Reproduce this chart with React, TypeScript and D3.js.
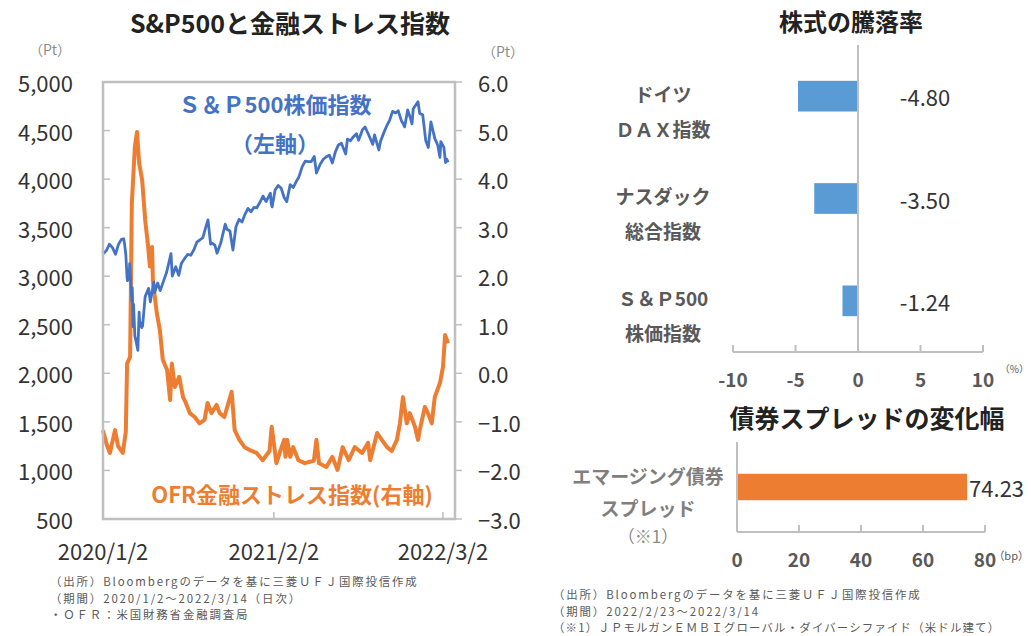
import React from "react";
import * as d3 from "d3";

// ---------- Left chart data ----------
const spxDates = [
  "2020-01-02","2020-01-03","2020-01-10","2020-01-17","2020-01-24","2020-01-31","2020-02-07","2020-02-14","2020-02-19","2020-02-21",
  "2020-02-24","2020-02-27","2020-02-28","2020-03-03","2020-03-04","2020-03-06","2020-03-09","2020-03-10","2020-03-12","2020-03-13",
  "2020-03-16","2020-03-20","2020-03-23","2020-03-26","2020-03-27","2020-04-01","2020-04-03","2020-04-09","2020-04-17","2020-04-21",
  "2020-04-29","2020-05-01","2020-05-08","2020-05-14","2020-05-22","2020-05-29","2020-06-08","2020-06-11","2020-06-19","2020-06-26",
  "2020-07-02","2020-07-10","2020-07-17","2020-07-24","2020-07-31","2020-08-07","2020-08-14","2020-08-21","2020-08-28","2020-09-02",
  "2020-09-08","2020-09-11","2020-09-18","2020-09-23","2020-10-02","2020-10-12","2020-10-16","2020-10-23","2020-10-30","2020-11-06",
  "2020-11-13","2020-11-20","2020-11-27","2020-12-04","2020-12-11","2020-12-18","2020-12-24","2020-12-31","2021-01-08","2021-01-15",
  "2021-01-25","2021-01-27","2021-01-29","2021-02-05","2021-02-12","2021-02-19","2021-02-26","2021-03-04","2021-03-12","2021-03-19",
  "2021-03-26","2021-04-01","2021-04-09","2021-04-16","2021-04-23","2021-04-30","2021-05-07","2021-05-12","2021-05-21","2021-05-28",
  "2021-06-04","2021-06-11","2021-06-18","2021-06-25","2021-07-02","2021-07-09","2021-07-19","2021-07-23","2021-07-30","2021-08-06",
  "2021-08-13","2021-08-18","2021-08-27","2021-09-02","2021-09-10","2021-09-20","2021-09-24","2021-10-04","2021-10-08","2021-10-15",
  "2021-10-22","2021-10-29","2021-11-05","2021-11-12","2021-11-18","2021-11-26","2021-11-30","2021-12-03","2021-12-10","2021-12-17",
  "2021-12-20","2021-12-23","2022-01-03","2022-01-07","2022-01-14","2022-01-21","2022-01-27","2022-02-02","2022-02-11","2022-02-18",
  "2022-02-23","2022-02-25","2022-03-04","2022-03-08","2022-03-11","2022-03-14",
];
const spxValues = [
  3258,3235,3265,3330,3295,3226,3328,3380,3386,3338,
  3226,2979,2954,3003,3130,2972,2746,2882,2481,2711,
  2386,2305,2237,2630,2541,2470,2489,2790,2875,2737,
  2940,2831,2930,2852,2955,3044,3232,3002,3098,3009,
  3130,3185,3225,3216,3271,3351,3373,3397,3508,3580,
  3331,3341,3319,3237,3348,3535,3484,3465,3270,3510,
  3585,3558,3638,3699,3663,3709,3703,3756,3825,3768,
  3855,3750,3714,3887,3934,3907,3811,3768,3943,3913,
  3975,4020,4129,4185,4180,4181,4233,4063,4156,4204,
  4230,4247,4166,4281,4352,4370,4259,4412,4395,4437,
  4468,4400,4509,4537,4459,4358,4455,4300,4391,4471,
  4545,4605,4697,4682,4704,4595,4567,4538,4712,4620,
  4568,4725,4796,4677,4662,4398,4326,4589,4419,4349,
  4225,4385,4329,4170,4204,4173,
];

const ofrDates = [
  "2020-01-02","2020-01-10","2020-01-18","2020-01-30","2020-02-06","2020-02-17","2020-02-24","2020-02-27","2020-03-05","2020-03-09",
  "2020-03-16","2020-03-21","2020-03-26","2020-04-02","2020-04-09","2020-04-16","2020-04-20","2020-04-25","2020-04-27","2020-05-06",
  "2020-05-13","2020-05-20","2020-05-30","2020-06-06","2020-06-10","2020-06-17","2020-06-27","2020-07-06","2020-07-12","2020-07-22",
  "2020-08-02","2020-08-13","2020-08-25","2020-09-01","2020-09-10","2020-09-22","2020-09-29","2020-10-10","2020-10-27","2020-11-03",
  "2020-11-14","2020-11-26","2020-12-08","2020-12-24","2021-01-07","2021-01-23","2021-01-28","2021-02-08","2021-02-17","2021-02-26",
  "2021-03-01","2021-03-05","2021-03-12","2021-03-19","2021-03-31","2021-04-15","2021-05-06","2021-05-12","2021-05-18","2021-06-04",
  "2021-06-18","2021-06-30","2021-07-12","2021-07-26","2021-08-09","2021-08-26","2021-09-09","2021-09-14","2021-09-20","2021-09-30",
  "2021-10-11","2021-10-23","2021-11-03","2021-11-15","2021-11-22","2021-11-29","2021-12-08","2021-12-15","2021-12-27","2022-01-03",
  "2022-01-07","2022-01-19","2022-01-26","2022-02-04","2022-02-11","2022-02-23","2022-03-02","2022-03-07","2022-03-11","2022-03-14",
];
const ofrValues = [
  -1.17,-1.45,-1.64,-1.17,-1.5,-1.64,-1.2,0.2,0.34,3.5,
  4.66,4.97,4.33,3.98,3.16,2.6,2.2,2.6,1.9,1.24,
  0.9,0.28,0.07,-0.55,0.2,-0.28,-0.07,-0.49,-0.6,-0.82,
  -0.9,-1.03,-0.96,-0.61,-0.82,-0.65,-0.82,-0.9,-0.38,-1.17,
  -1.37,-1.52,-1.58,-1.64,-1.79,-1.6,-1.1,-1.85,-1.6,-1.37,
  -1.72,-1.37,-1.72,-1.52,-1.79,-1.85,-1.8,-1.37,-1.85,-1.93,
  -1.72,-1.99,-1.52,-1.79,-1.52,-1.64,-1.43,-1.79,-1.58,-1.23,
  -1.37,-1.52,-1.6,-1.37,-1.03,-0.49,-1.03,-0.82,-1.1,-1.37,
  -1.17,-0.69,-0.82,-1.03,-0.49,-0.2,0.13,0.79,0.69,0.62,
];

const leftTicks = [500, 1000, 1500, 2000, 2500, 3000, 3500, 4000, 4500, 5000];
const rightTicks = [-3, -2, -1, 0, 1, 2, 3, 4, 5, 6];
const dateTicks = ["2020-01-02", "2021-02-02", "2022-03-02"];
const dateTickLabels = ["2020/1/2", "2021/2/2", "2022/3/2"];

// ---------- Right top chart data ----------
const stockCats = [["ドイツ", "ＤＡＸ指数"], ["ナスダック", "総合指数"], ["Ｓ＆Ｐ500", "株価指数"]];
const stockValues = [-4.8, -3.5, -1.24];
const stockTicks = [-10, -5, 0, 5, 10];

// ---------- Right bottom chart data ----------
const bondCats = [["エマージング債券", "スプレッド", "（※1）"]];
const bondValues = [74.23];
const bondTicks = [0, 20, 40, 60, 80];

const FONT = "'Noto Sans CJK JP', 'Noto Sans', sans-serif";
const BLUE = "#4472C4";
const ORANGE = "#ED7D31";
const BARBLUE = "#5B9BD5";
const AXIS = "#BFBFBF";
const TXT = "#333333";
const GRAYTXT = "#595959";

export default function App() {
  const parse = d3.utcParse("%Y-%m-%d");
  const x = d3.scaleUtc().domain([parse("2020-01-02")!, parse("2022-03-30")!]).range([103, 455]);
  const yL = d3.scaleLinear().domain([500, 5000]).range([519, 82]);
  const yR = d3.scaleLinear().domain([-3, 6]).range([519, 82]);

  const spx = spxDates.map((d, i) => ({ d: parse(d)!, v: spxValues[i] }));
  const ofr = ofrDates.map((d, i) => ({ d: parse(d)!, v: ofrValues[i] }));
  const spxLine = d3.line<{ d: Date; v: number }>().x((p) => x(p.d)).y((p) => yL(p.v));
  const ofrLine = d3.line<{ d: Date; v: number }>().x((p) => x(p.d)).y((p) => yR(p.v));

  const fmtL = d3.format(",");
  const fmtR = d3.format(".1f");

  const sx = d3.scaleLinear().domain([-10, 10]).range([733, 983]);
  const sy = d3.scaleBand<number>().domain(stockValues.map((_, i) => i)).range([45, 352]).paddingInner(0.7).paddingOuter(0.35);

  const bx = d3.scaleLinear().domain([0, 80]).range([737, 985]);
  const by = d3.scaleBand<number>().domain(bondValues.map((_, i) => i)).range([442, 532]).paddingInner(0.7).paddingOuter(0.36);

  return (
    <svg width={1031} height={636} style={{ position: "absolute", left: 0, top: 0, background: "#fff" }} fontFamily={FONT}>
      <rect x={0} y={0} width={1031} height={636} fill="#fff" />
      {/* ===== Left chart ===== */}
      <text x={290} y={22} textAnchor="middle" dominantBaseline="central" fontSize={25} fontWeight="bold" fill="#222">
        S&amp;P500と金融ストレス指数
      </text>
      <text x={50} y={49} textAnchor="middle" dominantBaseline="central" fontSize={14} fill="#8c8c8c">（Pt）</text>
      <text x={503} y={51} textAnchor="middle" dominantBaseline="central" fontSize={14} fill="#8c8c8c">（Pt）</text>

      <path d={ofrLine(ofr) || ""} fill="none" stroke={ORANGE} strokeWidth={4} strokeLinejoin="round" />
      <path d={spxLine(spx) || ""} fill="none" stroke={BLUE} strokeWidth={2.8} strokeLinejoin="round" />

      <rect x={103} y={82} width={352} height={437} fill="none" stroke={AXIS} strokeWidth={2.5} />
      {leftTicks.map((t) => (
        <g key={"l" + t}>
          {t !== 500 && t !== 5000 && <line x1={103} x2={110} y1={yL(t)} y2={yL(t)} stroke={AXIS} strokeWidth={1.5} />}
          <text x={73} y={yL(t)} textAnchor="end" dominantBaseline="central" fontSize={22} fill={TXT}>{fmtL(t)}</text>
        </g>
      ))}
      {rightTicks.map((t) => (
        <g key={"r" + t}>
          <line x1={455} x2={462} y1={yR(t)} y2={yR(t)} stroke={AXIS} strokeWidth={1.5} />
          <text x={478} y={yR(t)} textAnchor="start" dominantBaseline="central" fontSize={22} fill={TXT}>{fmtR(t)}</text>
        </g>
      ))}
      {dateTicks.map((t, i) => (
        <g key={"d" + t}>
          {i > 0 && <line x1={x(parse(t)!)} x2={x(parse(t)!)} y1={519} y2={512} stroke={AXIS} strokeWidth={1.5} />}
          <text x={x(parse(t)!)} y={550} textAnchor="middle" dominantBaseline="central" fontSize={22} fill={TXT}>{dateTickLabels[i]}</text>
        </g>
      ))}

      <text x={275} y={103} textAnchor="middle" dominantBaseline="central" fontSize={22} fontWeight="bold" fill={BLUE}>Ｓ＆Ｐ500株価指数</text>
      <text x={275} y={142} textAnchor="middle" dominantBaseline="central" fontSize={22} fontWeight="bold" fill={BLUE}>（左軸）</text>
      <text x={292} y={493} textAnchor="middle" dominantBaseline="central" fontSize={22} fontWeight="bold" fill={ORANGE}>OFR金融ストレス指数(右軸)</text>

      <g fontSize={11.4} fill={GRAYTXT} letterSpacing={1.9}>
        <text x={50} y={581} dominantBaseline="central">（出所）Bloombergのデータを基に三菱ＵＦＪ国際投信作成</text>
        <text x={50} y={597.5} dominantBaseline="central">（期間）2020/1/2～2022/3/14（日次）</text>
        <text x={50} y={614} dominantBaseline="central">・ＯＦＲ：米国財務省金融調査局</text>
      </g>

      {/* ===== Right top chart ===== */}
      <text x={851} y={20} textAnchor="middle" dominantBaseline="central" fontSize={24} fontWeight="bold" fill="#222">株式の騰落率</text>
      {stockValues.map((v, i) => (
        <g key={"s" + i}>
          <rect x={sx(Math.min(0, v))} y={sy(i)!} width={Math.abs(sx(v) - sx(0))} height={sy.bandwidth()} fill={BARBLUE} />
          <text x={925} y={sy(i)! + sy.bandwidth() / 2} textAnchor="middle" dominantBaseline="central" fontSize={22} fill={TXT}>{v.toFixed(2)}</text>
          <text x={663} y={sy(i)! + sy.bandwidth() / 2 - 3} textAnchor="middle" dominantBaseline="central" fontSize={19} fontWeight="bold" fill={GRAYTXT}>{stockCats[i][0]}</text>
          <text x={663} y={sy(i)! + sy.bandwidth() / 2 + 32} textAnchor="middle" dominantBaseline="central" fontSize={19} fontWeight="bold" fill={GRAYTXT}>{stockCats[i][1]}</text>
        </g>
      ))}
      <line x1={sx(0)} x2={sx(0)} y1={45} y2={352} stroke={AXIS} strokeWidth={2} />
      <line x1={sx(-10)} x2={sx(10)} y1={352} y2={352} stroke={AXIS} strokeWidth={2} />
      {stockTicks.map((t) => (
        <g key={"st" + t}>
          <line x1={sx(t)} x2={sx(t)} y1={352} y2={345} stroke={AXIS} strokeWidth={2} />
          <text x={sx(t)} y={378} textAnchor="middle" dominantBaseline="central" fontSize={19} fontWeight="bold" fill={GRAYTXT}>{t}</text>
        </g>
      ))}
      <text x={1029} y={368} textAnchor="end" dominantBaseline="central" fontSize={10} fill={GRAYTXT}>（%）</text>

      {/* ===== Right bottom chart ===== */}
      <text x={867} y={417} textAnchor="middle" dominantBaseline="central" fontSize={25} fontWeight="bold" fill="#222">債券スプレッドの変化幅</text>
      {bondValues.map((v, i) => (
        <g key={"b" + i}>
          <rect x={bx(0)} y={by(i)!} width={bx(v) - bx(0)} height={by.bandwidth()} fill={ORANGE} />
          <text x={bx(v) + 2} y={by(i)! + by.bandwidth() / 2} textAnchor="start" dominantBaseline="central" fontSize={22} fill={TXT}>{v.toFixed(2)}</text>
          <text x={648} y={475} textAnchor="middle" dominantBaseline="central" fontSize={19} fontWeight="bold" fill="#7f7f7f">{bondCats[i][0]}</text>
          <text x={648} y={507} textAnchor="middle" dominantBaseline="central" fontSize={19} fontWeight="bold" fill="#7f7f7f">{bondCats[i][1]}</text>
          <text x={648} y={535} textAnchor="middle" dominantBaseline="central" fontSize={17} fill="#8c8c8c">{bondCats[i][2]}</text>
        </g>
      ))}
      <line x1={bx(0)} x2={bx(0)} y1={442} y2={532} stroke={AXIS} strokeWidth={2} />
      <line x1={bx(0)} x2={bx(80)} y1={532} y2={532} stroke={AXIS} strokeWidth={2} />
      {bondTicks.map((t) => (
        <g key={"bt" + t}>
          <line x1={bx(t)} x2={bx(t)} y1={532} y2={525} stroke={AXIS} strokeWidth={2} />
          <text x={bx(t)} y={558} textAnchor="middle" dominantBaseline="central" fontSize={19} fontWeight="bold" fill={GRAYTXT}>{t}</text>
        </g>
      ))}
      <text x={1029} y={555} textAnchor="end" dominantBaseline="central" fontSize={11} fill={GRAYTXT}>（bp）</text>

      <g fontSize={11.4} fill={GRAYTXT}>
        <text x={553} y={594} dominantBaseline="central" letterSpacing={1.9}>（出所）Bloombergのデータを基に三菱ＵＦＪ国際投信作成</text>
        <text x={553} y={610.5} dominantBaseline="central" letterSpacing={1.9}>（期間）2022/2/23～2022/3/14</text>
        <text x={553} y={627} dominantBaseline="central" letterSpacing={1.2}>（※1）ＪＰモルガンＥＭＢＩグローバル・ダイバーシファイド（米ドル建て）</text>
      </g>
    </svg>
  );
}
